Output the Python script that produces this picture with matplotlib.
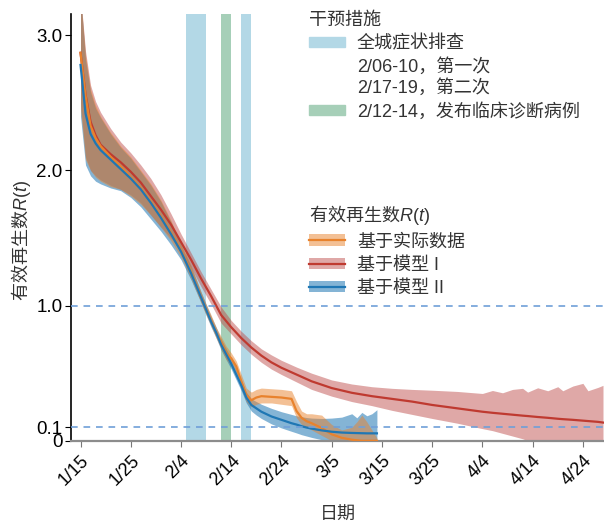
import numpy as np
import matplotlib.pyplot as plt
from matplotlib.patches import Patch
from matplotlib.lines import Line2D
from matplotlib.font_manager import FontProperties

plt.rcParams['font.family'] = ['Liberation Sans', 'Noto Sans CJK SC']
plt.rcParams['mathtext.fontset'] = 'custom'
plt.rcParams['mathtext.it'] = 'Liberation Sans:italic'
plt.rcParams['mathtext.rm'] = 'Liberation Sans'

# x axis = days since 1/15
tick_days = [0, 10, 20, 30, 40, 50, 60, 70, 80, 90, 100]
tick_labels = ['1/15', '1/25', '2/4', '2/14', '2/24', '3/5', '3/15', '3/25', '4/4', '4/14', '4/24']
ytick_vals = [0, 0.1, 1.0, 2.0, 3.0]
ytick_labels = ['0', '0.1', '1.0', '2.0', '3.0']

# interventions (day index)
screen_spans = [(21, 25), (32, 34)]
clinic_span = (28, 30)

# R(t) from reported data
data_days = [0, 1, 2, 3, 4, 6, 8, 10, 12, 14, 16, 18, 20, 22, 24, 25, 26, 27, 28, 29, 30,
             31, 32, 33, 34, 35, 36, 38, 40, 42, 43, 44, 45, 46, 48, 50, 52, 54, 55, 56, 57, 58, 59]
data_r = [2.87, 2.55, 2.33, 2.24, 2.18, 2.10, 2.03, 1.95, 1.87, 1.77, 1.66, 1.54, 1.41, 1.25, 1.06,
          0.97, 0.89, 0.80, 0.73, 0.65, 0.61, 0.55, 0.44, 0.34, 0.30, 0.32, 0.33, 0.325, 0.32, 0.31,
          0.22, 0.17, 0.145, 0.13, 0.095, 0.048, 0.022, 0.008, 0.004, 0.0, 0.0, 0.0, 0.0]
data_hi = [3.3, 2.85, 2.6, 2.48, 2.40, 2.28, 2.18, 2.10, 2.00, 1.90, 1.78, 1.63, 1.46, 1.30, 1.10,
           1.01, 0.93, 0.84, 0.77, 0.70, 0.65, 0.59, 0.49, 0.39, 0.36, 0.38, 0.39, 0.385, 0.38, 0.37,
           0.29, 0.22, 0.20, 0.20, 0.19, 0.12, 0.08, 0.10, 0.14, 0.19, 0.14, 0.08, 0.02]
data_lo = [2.45, 2.08, 2.0, 1.95, 1.92, 1.88, 1.86, 1.81, 1.75, 1.67, 1.58, 1.48, 1.36, 1.20, 1.02,
           0.93, 0.85, 0.76, 0.68, 0.60, 0.56, 0.50, 0.39, 0.29, 0.25, 0.27, 0.28, 0.28, 0.27, 0.26,
           0.17, 0.12, 0.10, 0.08, 0.04, 0.0, 0.0, 0.0, 0.0, 0.0, 0.0, 0.0, 0.0]

# model I
m1_days = [0, 1, 2, 3, 4, 6, 8, 10, 12, 14, 16, 18, 20, 22, 24, 26, 28, 30, 32, 34, 36, 38, 40, 43,
           46, 50, 54, 58, 62, 66, 70, 75, 80, 82, 84, 86, 88, 89, 91, 93, 95, 96, 98, 100, 101, 103, 104]
m1_r = [2.87, 2.56, 2.36, 2.26, 2.19, 2.12, 2.06, 1.99, 1.91, 1.81, 1.71, 1.60, 1.47, 1.34, 1.20,
        1.07, 0.93, 0.84, 0.76, 0.69, 0.63, 0.58, 0.54, 0.49, 0.44, 0.39, 0.355, 0.33, 0.31, 0.29,
        0.265, 0.24, 0.215, 0.207, 0.20, 0.193, 0.186, 0.183, 0.176, 0.17, 0.163, 0.16, 0.155,
        0.149, 0.146, 0.14, 0.135]
m1_hi = [3.3, 2.88, 2.63, 2.51, 2.43, 2.31, 2.21, 2.13, 2.04, 1.94, 1.82, 1.68, 1.53, 1.39, 1.25,
         1.12, 0.99, 0.89, 0.81, 0.74, 0.68, 0.635, 0.595, 0.545, 0.50, 0.45, 0.42, 0.40, 0.388,
         0.38, 0.374, 0.365, 0.35, 0.372, 0.355, 0.38, 0.388, 0.36, 0.392, 0.37, 0.40, 0.37, 0.405,
         0.425, 0.37, 0.395, 0.41]
m1_lo = [2.5, 2.1, 2.0, 1.96, 1.93, 1.89, 1.86, 1.82, 1.76, 1.67, 1.58, 1.50, 1.40, 1.28, 1.14,
         1.01, 0.87, 0.79, 0.71, 0.64, 0.58, 0.53, 0.49, 0.435, 0.38, 0.33, 0.29, 0.26, 0.225,
         0.195, 0.165, 0.13, 0.09, 0.075, 0.055, 0.035, 0.015, 0.0, 0.0, 0.0, 0.0, 0.0, 0.0,
         0.0, 0.0, 0.0, 0.0]

# model II
m2_days = data_days
m2_r = [2.78, 2.42, 2.27, 2.20, 2.15, 2.08, 2.01, 1.94, 1.86, 1.76, 1.65, 1.53, 1.40, 1.24, 1.06,
        0.97, 0.88, 0.80, 0.71, 0.64, 0.57, 0.49, 0.41, 0.32, 0.265, 0.24, 0.215, 0.18, 0.155,
        0.13, 0.12, 0.108, 0.098, 0.09, 0.077, 0.067, 0.061, 0.058, 0.057, 0.056, 0.055, 0.055, 0.055]
m2_hi = [3.3, 2.82, 2.58, 2.46, 2.39, 2.27, 2.17, 2.09, 1.99, 1.89, 1.77, 1.62, 1.45, 1.29, 1.10,
         1.01, 0.92, 0.84, 0.75, 0.68, 0.61, 0.53, 0.45, 0.36, 0.31, 0.29, 0.27, 0.24, 0.215,
         0.195, 0.185, 0.178, 0.172, 0.168, 0.165, 0.168, 0.175, 0.20, 0.17, 0.21, 0.185, 0.20, 0.23]
m2_lo = [2.4, 2.04, 1.96, 1.92, 1.90, 1.87, 1.85, 1.80, 1.73, 1.64, 1.55, 1.45, 1.34, 1.19, 1.02,
         0.93, 0.84, 0.76, 0.67, 0.60, 0.53, 0.45, 0.37, 0.28, 0.22, 0.19, 0.165, 0.125, 0.095,
         0.07, 0.058, 0.045, 0.035, 0.025, 0.008, 0.0, 0.0, 0.0, 0.0, 0.0, 0.0, 0.0, 0.0]

c_orange = '#e8822d'
c_red = '#bf3a30'
c_blue = '#1f77b4'
c_screen = '#b3d8e6'
c_clinic = '#a6cfb8'
c_text = '#333333'
cjk = 'Noto Sans CJK SC'

fig = plt.figure(figsize=(6.04, 5.24), dpi=100)
ax = fig.add_axes([0.1175, 0.1588, 0.8825, 0.8145])

for s in screen_spans:
    ax.axvspan(s[0], s[1], color=c_screen, lw=0, zorder=0)
ax.axvspan(clinic_span[0], clinic_span[1], color=c_clinic, lw=0, zorder=0)

ax.fill_between(m1_days, m1_lo, m1_hi, color='#bd4a48', alpha=0.48, lw=0, zorder=1)
ax.fill_between(m2_days, m2_lo, m2_hi, color=c_blue, alpha=0.55, lw=0, zorder=1)
ax.fill_between(data_days, data_lo, data_hi, color=c_orange, alpha=0.5, lw=0, zorder=1)

ax.plot(m1_days, m1_r, color=c_red, lw=1.6, zorder=3)
ax.plot(data_days, data_r, color=c_orange, lw=1.6, zorder=3)
ax.plot(m2_days, m2_r, color=c_blue, lw=1.6, zorder=3)

for yv in [1.0, 0.1]:
    ax.axhline(yv, color='#6f9fd8', lw=1.2, ls=(0, (4, 3.5)), zorder=4)

ax.set_xlim(-1.9, 104.2)
ax.set_ylim(0, 3.157)
ax.set_xticks(tick_days)
ax.set_xticklabels(tick_labels, rotation=45, ha='right', rotation_mode='anchor', fontsize=13)
ax.set_yticks(ytick_vals)
ax.set_yticklabels(ytick_labels, fontsize=13.5)
ax.tick_params(axis='x', length=4, color='#777777', pad=4)
ax.tick_params(axis='y', length=4, color='black', pad=2)
for sp in ['top', 'right']:
    ax.spines[sp].set_visible(False)
ax.spines['left'].set_color('black')
ax.spines['left'].set_linewidth(1.2)
ax.spines['bottom'].set_color('#8c8c8c')
ax.spines['bottom'].set_linewidth(1.6)

ax.set_xlabel('日期', fontsize=13, color=c_text, labelpad=13)
ax.set_ylabel('有效再生数$R(t)$', fontsize=13, color=c_text, family=cjk)
ax.yaxis.set_label_coords(-0.072, 0.47)

# legend: interventions
blank = Line2D([], [], alpha=0)
h1 = [Patch(color=c_screen), blank, Patch(color=c_clinic)]
l1 = ['全城症状排查', '2/06-10，第一次\n2/17-19，第二次', '2/12-14，发布临床诊断病例']
leg1 = fig.legend(h1, l1, title='干预措施', loc='upper left', bbox_to_anchor=(300 / 604, 1 - 3 / 524),
                  frameon=False, fontsize=13, title_fontsize=13, handlelength=2.0, handleheight=0.5,
                  handletextpad=0.65, labelspacing=0.33, borderpad=0, alignment='left')

# legend: R(t)
h2 = [(Patch(color=c_orange, alpha=0.5, lw=0), Line2D([], [], color=c_orange, lw=1.6)),
      (Patch(color='#bd4a48', alpha=0.48, lw=0), Line2D([], [], color=c_red, lw=1.6)),
      (Patch(color=c_blue, alpha=0.55, lw=0), Line2D([], [], color=c_blue, lw=1.6))]
l2 = ['基于实际数据', '基于模型 I', '基于模型 II']
leg2 = fig.legend(h2, l2, title='有效再生数$R(t)$', loc='upper left', bbox_to_anchor=(300 / 604, 1 - 194 / 524),
                  frameon=False, fontsize=13, handlelength=2.0, handleheight=0.6,
                  handletextpad=0.65, labelspacing=0.35, borderpad=0, alignment='left',
                  title_fontproperties=FontProperties(family=cjk, size=13))
for lg in (leg1, leg2):
    for t in lg.get_texts():
        t.set_color(c_text)
    lg.get_title().set_color(c_text)

fig.savefig('out.png', dpi=100)
